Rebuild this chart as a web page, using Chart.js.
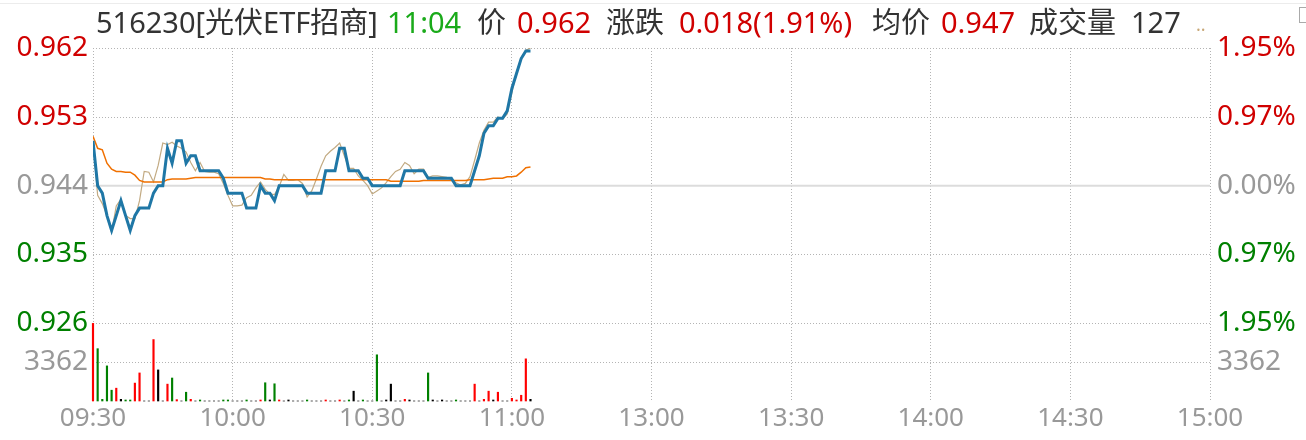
<!DOCTYPE html>
<html>
<head>
<meta charset="utf-8">
<script src="https://cdn.jsdelivr.net/npm/chart.js@4.4.1/dist/chart.umd.min.js"></script>
<style>
body{margin:0;background:#fff;width:1306px;height:440px;overflow:hidden;position:relative;font-family:"Noto Sans","Noto Sans CJK SC",sans-serif}
#hd{position:absolute;left:0;top:0;width:1306px;height:44px;font-size:29px;line-height:44px;color:#333;white-space:nowrap;z-index:2}
#hd span{position:absolute;top:0}
#hd .up{color:#d00000}
#hd .tm{color:#1aaa1a}
#hd .dots{color:#c8a878;font-size:18px;top:2px}
#topline{position:absolute;left:0;top:3px;width:1306px;height:1px;background:#ececec}
#box{position:absolute;left:1299px;top:7px;width:14px;height:14px;border:1px solid #aaa}
#wrap{position:absolute;left:0;top:0;width:1306px;height:440px}
</style>
</head>
<body>
<div id="topline"></div>
<div id="hd">
  <span style="left:96px">516230[光伏ETF招商]</span>
  <span class="tm" style="left:387px">11:04</span>
  <span style="left:477px">价</span>
  <span class="up" style="left:517px">0.962</span>
  <span style="left:606px">涨跌</span>
  <span class="up" style="left:679px">0.018(1.91%)</span>
  <span style="left:872px">均价</span>
  <span class="up" style="left:941px">0.947</span>
  <span style="left:1029px">成交量</span>
  <span style="left:1131px">127</span>
  <span class="dots" style="left:1196px">..</span>
</div>
<div id="box"></div>
<div id="wrap"><canvas id="c" width="1306" height="440"></canvas></div>
<script>
// ---------- data (one point per minute from 09:30) ----------
const preClose=0.944;
const timeLabels=['09:30','10:00','10:30','11:00','13:00','13:30','14:00','14:30','15:00'];
const pctTicks=[1.95,0.97,0,-0.97,-1.95];
const volTick=3362;

const price=[
  0.950,0.944,0.943,0.940,0.938,0.940,0.942,0.940,0.938,0.940,
  0.941,0.941,0.941,0.943,0.944,0.944,0.949,0.947,0.950,0.950,
  0.947,0.948,0.948,0.946,0.946,0.946,0.946,0.946,0.945,0.943,
  0.943,0.943,0.943,0.941,0.941,0.941,0.944,0.943,0.943,0.942,
  0.944,0.944,0.944,0.944,0.944,0.944,0.943,0.943,0.943,0.943,
  0.946,0.946,0.946,0.949,0.949,0.946,0.946,0.946,0.945,0.945,
  0.944,0.944,0.944,0.944,0.944,0.944,0.944,0.946,0.946,0.946,
  0.946,0.946,0.945,0.945,0.945,0.945,0.945,0.945,0.944,0.944,
  0.944,0.944,0.946,0.948,0.951,0.952,0.952,0.953,0.953,0.954,
  0.957,0.959,0.961,0.962,0.962
];
const avgPrice=[
  0.9506,0.9490,0.9488,0.9470,0.9462,0.9459,0.9459,0.9458,0.9458,0.9454,
  0.9447,0.9445,0.9445,0.9445,0.9445,0.9445,0.9448,0.9449,0.9449,0.9449,
  0.9449,0.9450,0.9451,0.9451,0.9451,0.9451,0.9451,0.9451,0.9451,0.9451,
  0.9451,0.9451,0.9451,0.9451,0.9451,0.9451,0.9451,0.9449,0.9449,0.9448,
  0.9448,0.9448,0.9448,0.9448,0.9448,0.9448,0.9448,0.9448,0.9448,0.9448,
  0.9448,0.9448,0.9448,0.9448,0.9448,0.9448,0.9448,0.9448,0.9448,0.9448,
  0.9448,0.9448,0.9448,0.9448,0.9446,0.9446,0.9446,0.9446,0.9446,0.9446,
  0.9446,0.9447,0.9447,0.9447,0.9447,0.9447,0.9447,0.9447,0.9447,0.9447,
  0.9447,0.9448,0.9448,0.9448,0.9448,0.9449,0.9450,0.9450,0.9450,0.9452,
  0.9452,0.9453,0.9458,0.9464,0.9465
];
const iopv=[
  0.9498,0.9427,0.9416,0.9400,0.9378,0.9413,0.9422,0.9400,0.9396,0.9396,
  0.9420,0.9459,0.9458,0.9445,0.9467,0.9497,0.9495,0.9498,0.9493,0.9490,
  0.9485,0.9471,0.9460,0.9471,0.9459,0.9458,0.9458,0.9456,0.9443,0.9427,
  0.9413,0.9413,0.9414,0.9424,0.9427,0.9437,0.9445,0.9435,0.9429,0.9428,
  0.9439,0.9455,0.9447,0.9447,0.9448,0.9443,0.9425,0.9433,0.9449,0.9466,
  0.9480,0.9486,0.9491,0.9497,0.9480,0.9463,0.9463,0.9453,0.9447,0.9440,
  0.9429,0.9433,0.9437,0.9444,0.9452,0.9459,0.9462,0.9471,0.9467,0.9456,
  0.9462,0.9462,0.9451,0.9453,0.9453,0.9452,0.9451,0.9448,0.9444,0.9441,
  0.9443,0.9452,0.9474,0.9497,0.9514,0.9525,0.9525,0.9532,0.9529,0.9536,
  0.9564,0.9592,0.9611,0.9621,0.9624
];
const volume=[
  6720,4530,146,3040,935,1110,146,88,88,1550,
  2430,0,0,5320,2690,0,1460,1990,117,0,
  760,146,0,88,0,0,0,0,88,88,
  0,0,0,88,0,0,88,1580,88,1490,
  88,0,88,0,0,0,88,0,0,0,
  88,0,0,88,0,88,850,0,88,0,
  0,4000,0,88,1460,0,0,146,88,0,
  0,0,2430,88,0,88,0,0,88,0,
  0,0,1460,0,146,850,88,760,0,0,
  234,88,497,3650,146
];
// 1 up, -1 down, 0 unchanged
const volDir=[
  1,-1,-1,-1,-1,1,0,-1,-1,1,
  1,0,0,1,0,0,1,-1,1,0,
  -1,1,0,-1,0,0,0,0,-1,-1,
  0,0,0,-1,0,0,1,-1,0,-1,
  1,0,0,0,0,0,-1,0,0,0,
  1,0,0,1,0,-1,0,0,-1,0,
  0,-1,0,0,0,0,0,1,0,0,
  0,0,-1,0,0,0,0,0,-1,0,
  0,0,1,0,1,1,0,1,0,0,
  1,1,1,1,0
];

// ---------- scales ----------
const RED='#d00000', GREEN='#008000', GRAY='#999999';
const PRICE_FRAC=0.78;   // share of plot height used by the price band
const pMax=preClose*(1+pctTicks[0]/100);
const pMin=preClose*(1+pctTicks[pctTicks.length-1]/100);
const yMin=pMin-(pMax-pMin)*(1-PRICE_FRAC)/PRICE_FRAC;
const volMax=volTick*2/(1-PRICE_FRAC);
const volTickPrice=yMin+(volTick/volMax)*(pMax-yMin);
const yTicks=pctTicks.map(p=>preClose*(1+p/100)).concat([volTickPrice]);

function tickColor(i){
  if(i>=pctTicks.length) return GRAY;
  return pctTicks[i]>0?RED:(pctTicks[i]<0?GREEN:GRAY);
}
const pts=arr=>arr.map((v,i)=>({x:i,y:v}));

const tickFont={family:'"Noto Sans", sans-serif',size:28};

new Chart(document.getElementById('c'),{
  data:{
    datasets:[
      {type:'line',data:pts(price),borderColor:'#1f77a6',borderWidth:3,pointRadius:0,yAxisID:'y',order:0},
      {type:'line',data:pts(avgPrice),borderColor:'#f07000',borderWidth:1.5,pointRadius:0,yAxisID:'y',order:1},
      {type:'line',data:pts(iopv),borderColor:'#c2aa82',borderWidth:1.2,pointRadius:0,yAxisID:'y',order:2},
      {type:'bar',data:pts(volume),backgroundColor:volDir.map(d=>d>0?'#ff0000':(d<0?'#008000':'#000000')),
        barThickness:1.5,yAxisID:'yv',order:3,clip:false},
      {type:'line',data:[{x:0,y:preClose},{x:240,y:preClose}],borderColor:'#dcdcdc',borderWidth:2,pointRadius:0,yAxisID:'y',order:4}
    ]
  },
  options:{
    responsive:false,
    animation:false,
    devicePixelRatio:1,
    layout:{padding:{top:48,left:0,right:0,bottom:0}},
    plugins:{legend:{display:false},tooltip:{enabled:false}},
    scales:{
      x:{
        type:'linear',min:0,max:240,offset:false,
        afterBuildTicks:s=>{s.ticks=timeLabels.map((_,i)=>({value:i*30}));},
        afterFit:s=>{s.height=39;},
        ticks:{callback:(v,i)=>timeLabels[i],color:GRAY,font:{family:'"Noto Sans", sans-serif',size:26},
          maxRotation:0,autoSkip:false,padding:2},
        grid:{color:'#b4b4b4',drawTicks:false,lineWidth:1,offset:false},
        border:{display:false,dash:[1,2]}
      },
      y:{
        type:'linear',position:'left',min:yMin,max:pMax,
        afterBuildTicks:s=>{s.ticks=yTicks.map(v=>({value:v}));},
        afterFit:s=>{s.width=93;},
        ticks:{callback:(v,i)=>i<pctTicks.length?v.toFixed(3):String(volTick),
          color:c=>tickColor(c.index),font:tickFont,autoSkip:false,padding:5},
        grid:{color:'#b4b4b4',drawTicks:false,lineWidth:1},
        border:{display:false,dash:[1,2]}
      },
      yr:{
        type:'linear',position:'right',min:yMin,max:pMax,
        afterBuildTicks:s=>{s.ticks=yTicks.map(v=>({value:v}));},
        afterFit:s=>{s.width=96;},
        ticks:{callback:(v,i)=>i<pctTicks.length?Math.abs(pctTicks[i]).toFixed(2)+'%':String(volTick),
          color:c=>tickColor(c.index),font:tickFont,autoSkip:false,padding:7},
        grid:{display:false,drawTicks:false},
        border:{display:false}
      },
      yv:{type:'linear',display:false,min:0,max:volMax}
    }
  }
});
</script>
</body>
</html>
